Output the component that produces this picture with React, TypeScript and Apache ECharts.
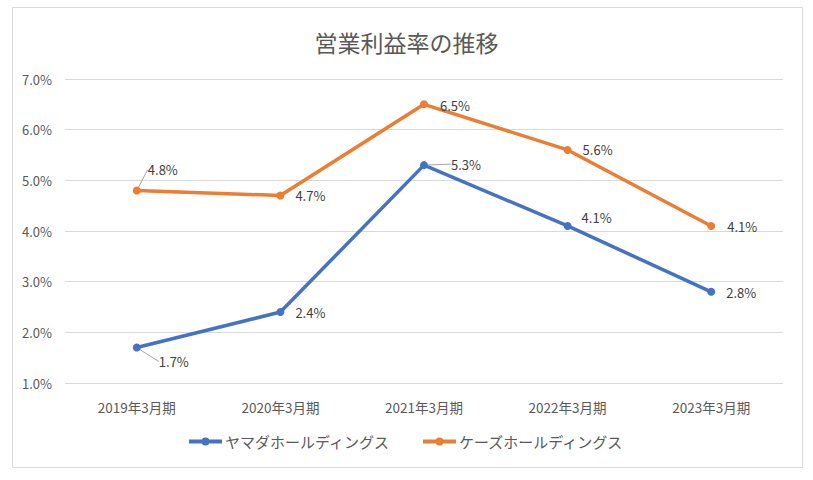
import React, { useEffect, useRef } from "react";
import * as echarts from "echarts";

const categories = ["2019年3月期", "2020年3月期", "2021年3月期", "2022年3月期", "2023年3月期"];
const yamadaValues = [1.7, 2.4, 5.3, 4.1, 2.8];
const ksValues = [4.8, 4.7, 6.5, 5.6, 4.1];
const seriesNames = ["ヤマダホールディングス", "ケーズホールディングス"];
const titleText = "営業利益率の推移";

// label offsets (dx, dy) per point, and whether a leader line is shown
const yamadaLabelOffsets: [number, number, boolean][] = [
  [13, 14, true],
  [6, 0, false],
  [18, -1, true],
  [5, -8, false],
  [6, 1, false],
];
const ksLabelOffsets: [number, number, boolean][] = [
  [2, -21, true],
  [6, 0, false],
  [7, 1, false],
  [6, 0, false],
  [7, 1, false],
];

const FONT = "'Noto Sans CJK JP', 'Noto Sans', sans-serif";
const LEGEND_ICON = "path://M0,2 L33,2 L33,6 L0,6 Z M12.5,4 A4,4 0 1 1 20.5,4 A4,4 0 1 1 12.5,4 Z";

export default function App() {
  const ref = useRef<HTMLDivElement>(null);
  useEffect(() => {
    if (!ref.current) return;
    const chart = echarts.init(ref.current, undefined, { renderer: "svg" });
    const makeSeries = (name: string, values: number[], color: string, offs: [number, number, boolean][]) => ({
      name,
      type: "line",
      data: values.map((v, i) => ({
        value: v,
        labelLine: { show: offs[i][2], lineStyle: { color: "#a6a6a6", width: 1 }, length2: 0 },
      })),
      symbol: "circle",
      symbolSize: 8,
      lineStyle: { color, width: 3.5 },
      itemStyle: { color },
      label: {
        show: true,
        position: "right",
        distance: 5,
        formatter: (p: any) => p.value.toFixed(1) + "%",
        color: "#404040",
        fontSize: 13,
        fontFamily: FONT,
      },
      labelLine: { show: false },
      labelLayout: (p: any) => ({ dx: offs[p.dataIndex][0], dy: offs[p.dataIndex][1] }),
    });
    chart.setOption({
      animation: false,
      backgroundColor: "#ffffff",
      title: {
        text: titleText,
        left: "center",
        top: 25,
        textStyle: { color: "#595959", fontSize: 23, fontWeight: "normal", fontFamily: FONT },
      },
      graphic: [
        {
          type: "rect",
          shape: { x: 12.5, y: 7.5, width: 790, height: 460 },
          style: { fill: "none", stroke: "#d9d9d9", lineWidth: 1 },
          silent: true,
        },
      ],
      legend: {
        bottom: 26,
        left: "center",
        itemGap: 33,
        itemWidth: 33,
        itemHeight: 8,
        data: [
          { name: seriesNames[0], icon: LEGEND_ICON },
          { name: seriesNames[1], icon: LEGEND_ICON },
        ],
        textStyle: { color: "#595959", fontSize: 15, fontFamily: FONT, padding: [0, 0, 0, -2] },
      },
      grid: { left: 65, right: 30, top: 79, bottom: 97 },
      xAxis: {
        type: "category",
        data: categories,
        boundaryGap: true,
        axisLine: { show: false },
        axisTick: { show: false },
        axisLabel: { color: "#595959", fontSize: 13.5, fontFamily: FONT, margin: 17 },
      },
      yAxis: {
        type: "value",
        min: 1,
        max: 7,
        interval: 1,
        axisLine: { show: false },
        axisTick: { show: false },
        splitLine: { lineStyle: { color: "#d9d9d9", width: 1 } },
        axisLabel: {
          color: "#595959",
          fontSize: 13,
          fontFamily: FONT,
          margin: 13,
          formatter: (v: number) => v.toFixed(1) + "%",
        },
      },
      series: [
        makeSeries(seriesNames[0], yamadaValues, "#4472C4", yamadaLabelOffsets),
        makeSeries(seriesNames[1], ksValues, "#ED7D31", ksLabelOffsets),
      ],
    });
    return () => chart.dispose();
  }, []);
  return (
    <div
      ref={ref}
      style={{ position: "fixed", left: 0, top: 0, width: 813, height: 480, background: "#fff" }}
    />
  );
}
